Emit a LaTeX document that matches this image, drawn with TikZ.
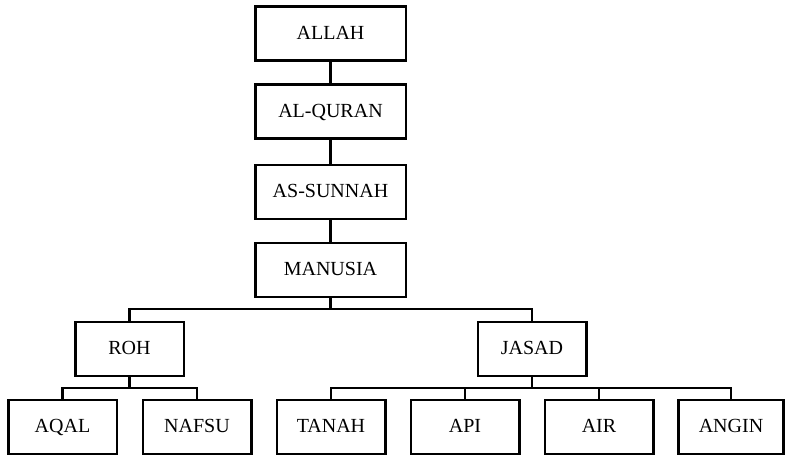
\documentclass[tikz,border=0pt]{standalone}
\usepackage{fontspec}
\setmainfont{Liberation Serif}
\begin{document}
\begin{tikzpicture}[x=1pt,y=-1pt,
  box/.style={draw,line width=2.5pt,inner sep=0pt,minimum width=108.5pt,minimum height=54pt,text height=13.5pt,text depth=2pt,font=\fontsize{20}{22}\selectfont},
  topbox/.style={box,minimum width=150.5pt},
  conn/.style={line width=2.5pt}]
\useasboundingbox (0,0) rectangle (785,455);
\node[topbox] (allah) at (330.5,33.5) {ALLAH};
\node[topbox] (quran) at (330.5,111.5) {AL-QURAN};
\node[topbox] (sunnah) at (330.5,192) {AS-SUNNAH};
\node[topbox] (manusia) at (330.5,270) {MANUSIA};
\node[box] (roh) at (129.5,349) {ROH};
\node[box] (jasad) at (532,349) {JASAD};
\node[box] (aqal) at (62.5,427) {AQAL};
\node[box] (nafsu) at (197,427) {NAFSU};
\node[box] (tanah) at (331,427) {TANAH};
\node[box] (api) at (465,427) {API};
\node[box] (air) at (599,427) {AIR};
\node[box,minimum width=105pt] (angin) at (731,427) {ANGIN};
\coordinate (m1) at (330.5,309);
\coordinate (r1) at (129.5,388);
\coordinate (j1) at (532,388);
\draw[conn] (allah) -- (quran);
\draw[conn] (quran) -- (sunnah);
\draw[conn] (sunnah) -- (manusia);
\draw[conn] (manusia.south) -- (m1);
\draw[conn] (roh.north) |- (m1) -| (jasad.north);
\draw[conn] (roh.south) -- (r1);
\draw[conn] (aqal.north) |- (r1) -| (nafsu.north);
\draw[conn] (jasad.south) -- (j1);
\draw[conn] (tanah.north) |- (j1) -| (angin.north);
\draw[conn] (api.north) -- (api.north |- j1);
\draw[conn] (air.north) -- (air.north |- j1);
\end{tikzpicture}
\end{document}
